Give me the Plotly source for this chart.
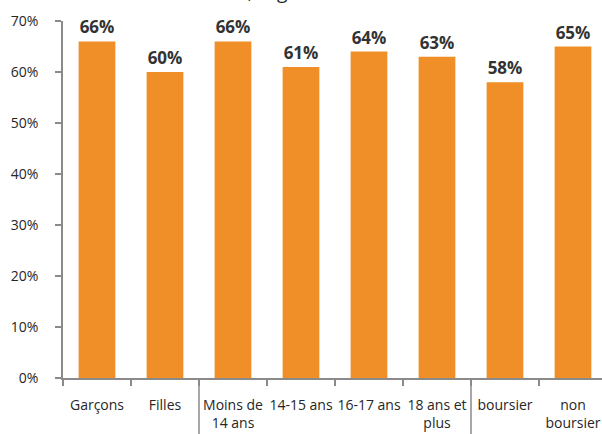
import plotly.graph_objects as go

categories = ["Garçons", "Filles", "Moins de<br>14 ans", "14-15 ans", "16-17 ans",
              "18 ans et<br>plus", "boursier", "non<br>boursier"]
values = [0.66, 0.60, 0.66, 0.61, 0.64, 0.63, 0.58, 0.65]
y_ticks = [0, 0.1, 0.2, 0.3, 0.4, 0.5, 0.6, 0.7]
group_separators = [1.5, 5.5]
title_text = "Selon le sexe, l'âge et la bourse"

AXIS = "#8a8a8a"
ORANGE = "#F08F27"
W, H = 602, 434
L, R, T, B = 63, 0, 21, 56
plot_w = W - L - R
cat_px = 68.0
x_max = -0.5 + plot_w / cat_px

fig = go.Figure()
fig.add_trace(go.Bar(
    x=categories, y=values,
    width=0.54,
    marker=dict(color=ORANGE, line=dict(width=0)),
    texttemplate="%{y:.0%}",
    textposition="outside",
    textfont=dict(family="Open Sans", size=17, color="#333333", weight="bold"),
    cliponaxis=False,
    hoverinfo="skip",
))

for s in group_separators:
    fig.add_shape(type="line", xref="x", yref="paper", x0=s, x1=s, y0=0, y1=-0.2,
                  line=dict(color=AXIS, width=1.5))

fig.add_annotation(text=title_text, xref="paper", yref="paper", x=0.385, y=1.04,
                   xanchor="center", yanchor="bottom", showarrow=False,
                   font=dict(family="Open Sans", size=19, color="#262626"))

fig.update_layout(
    width=W, height=H,
    margin=dict(l=L, r=R, t=T, b=B, autoexpand=False),
    paper_bgcolor="white", plot_bgcolor="white",
    showlegend=False,
    font=dict(family="Open Sans", size=14, color="#262626"),
    xaxis=dict(
        type="category", range=[-0.5, x_max], tickangle=0, automargin=False,
        tickson="boundaries", ticks="outside", ticklen=6, tickwidth=1.5, tickcolor=AXIS,
        showline=True, linecolor=AXIS, linewidth=1.5,
        showgrid=False, zeroline=False,
        ticklabelstandoff=13,
        tickfont=dict(family="Open Sans", size=14, color="#262626"),
    ),
    yaxis=dict(
        range=[0, 0.7], tickvals=y_ticks, tickformat=".0%", automargin=False,
        ticks="outside", ticklen=6, tickwidth=1.5, tickcolor=AXIS,
        showline=True, linecolor=AXIS, linewidth=1.5,
        showgrid=False, zeroline=False,
        ticklabelstandoff=14,
        tickfont=dict(family="Open Sans", size=14, color="#262626"),
    ),
)

fig.write_html("out.html")
